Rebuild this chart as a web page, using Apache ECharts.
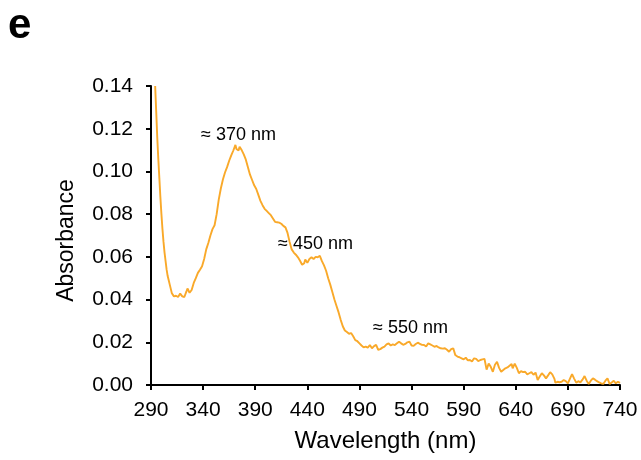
<!DOCTYPE html>
<html>
<head>
<meta charset="utf-8">
<script src="https://cdn.jsdelivr.net/npm/echarts@6/dist/echarts.min.js"></script>
<style>
html,body{margin:0;padding:0;background:#fff;}
#c{width:641px;height:460px;}
</style>
</head>
<body>
<div id="c"></div>
<script>
const wavelengths = [294,295,296,297,298,299,300,301,302,303,304,305,306,307,308,309,310,312,314,316,318,320,322,324,325,327,329,331,333,335,337,339,341,343,345,347,349,351,353,355,357,359,361,363,365,367,369,371,372,373,374,375,377,379,381,383,385,387,389,391,393,395,397,399,401,403,405,407,409,411,413,415,417,419,421,423,425,427,429,431,433,435,437,438,440,442,444,446,448,450,452,454,456,458,460,462,464,466,468,470,472,474,476,478,480,482,484,486,488,490,492,494,496,498,500,502,504,506,508,510,512,514,516,518,520,522,524,526,528,530,532,534,536,538,540,542,544,546,548,550,552,554,556,558,560,562,564,566,568,570,572,574,576,578,580,582,584,586,588,590,592,594,596,598,600,602,604,606,608,610,612,614,616,618,620,622,624,626,628,630,632,634,636,637,639,641,643,645,647,649,651,653,655,657,659,661,663,665,667,669,671,673,675,677,678,680,682,684,686,688,690,692,694,696,698,700,702,704,706,708,710,712,714,716,718,720,722,724,726,728,730,732,734,736,738,740];
const absorbance = [0.140,0.128,0.116,0.106,0.097,0.088,0.080,0.073,0.067,0.062,0.058,0.054,0.051,0.049,0.047,0.045,0.043,0.0415,0.0418,0.0412,0.0428,0.0415,0.0412,0.0438,0.0452,0.0432,0.0445,0.0478,0.0500,0.0525,0.0540,0.0556,0.0590,0.0635,0.0665,0.0700,0.0730,0.0748,0.0800,0.0868,0.0920,0.0962,0.0995,0.1020,0.1050,0.1075,0.1098,0.1124,0.1105,0.1112,0.1098,0.1115,0.1100,0.1080,0.1055,0.1020,0.0985,0.0960,0.0935,0.0918,0.0890,0.0862,0.0842,0.0825,0.0815,0.0805,0.0795,0.0780,0.0764,0.0762,0.0760,0.0755,0.0745,0.0738,0.0712,0.0670,0.0635,0.0620,0.0610,0.0598,0.0582,0.0563,0.0570,0.0588,0.0572,0.0590,0.0598,0.0590,0.0600,0.0598,0.0605,0.0580,0.0560,0.0535,0.0500,0.0470,0.0435,0.0400,0.0370,0.0340,0.0305,0.0275,0.0255,0.0248,0.0240,0.0243,0.0228,0.0210,0.0205,0.0195,0.0185,0.0176,0.0180,0.0175,0.0187,0.0172,0.0182,0.0188,0.0165,0.0168,0.0175,0.0180,0.0190,0.0195,0.0185,0.0190,0.0187,0.0195,0.0203,0.0195,0.0188,0.0192,0.0200,0.0203,0.0185,0.0183,0.0192,0.0198,0.0193,0.0188,0.0187,0.0180,0.0195,0.0190,0.0185,0.0179,0.0183,0.0176,0.0172,0.0170,0.0172,0.0165,0.0156,0.0168,0.0172,0.0140,0.0133,0.0130,0.0125,0.0120,0.0128,0.0115,0.0117,0.0110,0.0125,0.0122,0.0112,0.0117,0.0120,0.0122,0.0072,0.0100,0.0085,0.0062,0.0095,0.0108,0.0080,0.0062,0.0070,0.0078,0.0082,0.0090,0.0098,0.0078,0.0100,0.0080,0.0055,0.0065,0.0060,0.0062,0.0050,0.0055,0.0060,0.0048,0.0058,0.0023,0.0040,0.0055,0.0045,0.0031,0.0045,0.0060,0.0050,0.0030,0.0011,0.0015,0.0013,0.0015,0.0023,0.0018,0.0008,0.0030,0.0051,0.0030,0.0011,0.0018,0.0012,0.0025,0.0042,0.0020,0.0005,0.0020,0.0031,0.0025,0.0018,0.0012,0.0008,0.0005,0.0020,0.0031,0.0005,0.0012,0.0020,0.0008,0.0015,0.0010];
const xTicks = [290,340,390,440,490,540,590,640,690,740];
const yTicks = ['0.00','0.02','0.04','0.06','0.08','0.10','0.12','0.14'];
const peakLabels = ['≈ 370 nm','≈ 450 nm','≈ 550 nm'];

const chart = echarts.init(document.getElementById('c'), null, {renderer:'canvas'});
const font = 'Liberation Sans, Arial, Helvetica, sans-serif';
const points = wavelengths.map((w,i)=>[w, absorbance[i]]);
chart.setOption({
  animation:false,
  backgroundColor:'#fff',
  grid:{left:151,right:21,top:86,bottom:75,containLabel:false},
  xAxis:{
    type:'value', min:290, max:740, interval:50,
    name:'Wavelength (nm)', nameLocation:'middle', nameGap:44,
    nameTextStyle:{fontFamily:font,fontSize:24,color:'#000'},
    axisLine:{lineStyle:{color:'#000',width:2}},
    axisTick:{show:true,length:5,lineStyle:{color:'#000',width:2}},
    axisLabel:{fontFamily:font,fontSize:21,color:'#000',margin:15,
      formatter:v=>xTicks.includes(v)?String(v):''},
    splitLine:{show:false}
  },
  yAxis:{
    type:'value', min:0, max:0.14, interval:0.02,
    name:'Absorbance', nameLocation:'middle', nameGap:73,
    nameTextStyle:{fontFamily:font,fontSize:23,color:'#000',padding:[0,10,0,0]},
    axisLine:{show:true,lineStyle:{color:'#000',width:2}},
    axisTick:{show:true,length:5,lineStyle:{color:'#000',width:2}},
    axisLabel:{fontFamily:font,fontSize:21,color:'#000',margin:18,
      formatter:v=>yTicks[Math.round(v/0.02)]},
    splitLine:{show:false}
  },
  series:[{
    type:'line', data:points, symbol:'none', clip:true,
    lineStyle:{color:'#F9A92A',width:1.9}
  }],
  graphic:[
    {type:'text',x:8,y:26,style:{text:'e',font:'bold 42px '+font,fill:'#000',textVerticalAlign:'middle'}},
    {type:'text',x:201,y:135,style:{text:peakLabels[0],font:'18px '+font,fill:'#000',textVerticalAlign:'middle'}},
    {type:'text',x:278,y:244,style:{text:peakLabels[1],font:'18px '+font,fill:'#000',textVerticalAlign:'middle'}},
    {type:'text',x:373,y:328,style:{text:peakLabels[2],font:'18px '+font,fill:'#000',textVerticalAlign:'middle'}}
  ]
});
</script>
</body>
</html>
